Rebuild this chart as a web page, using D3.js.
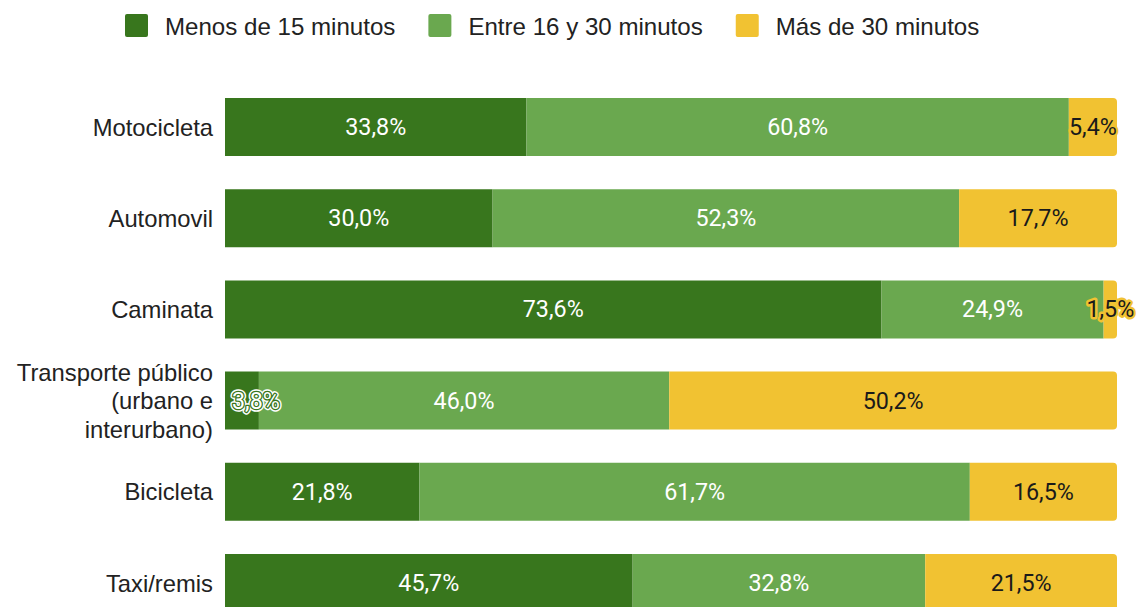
<!DOCTYPE html>
<html>
<head>
<meta charset="utf-8">
<script src="https://cdn.jsdelivr.net/npm/d3@7"></script>
<style>
  html, body { margin: 0; padding: 0; background: #fff; overflow: hidden; }
  svg { display: block; }
</style>
</head>
<body>
<div id="chart"></div>
<script>
// modes of transport, top to bottom (line breaks with \n)
const CATEGORIES = ["Motocicleta", "Automovil", "Caminata",
  "Transporte público\n(urbano e\ninterurbano)", "Bicicleta", "Taxi/remis"];
const SERIES = ["Menos de 15 minutos", "Entre 16 y 30 minutos", "Más de 30 minutos"];
const MENOS_15  = [33.8, 30.0, 73.6, 3.8, 21.8, 45.7];
const ENTRE_16_30 = [60.8, 52.3, 24.9, 46.0, 61.7, 32.8];
const MAS_30    = [5.4, 17.7, 1.5, 50.2, 16.5, 21.5];
const X_DOMAIN  = [0, 100];

(function () {
  const W = 1137, H = 607;
  const COLORS = ["#38761d", "#6aa84f", "#f1c232"];
  const TEXT_ON = ["#ffffff", "#ffffff", "#1a1a1a"];
  const LABEL_FONT = "'Liberation Sans', Arial, sans-serif";
  const VALUE_FONT = "Roboto, sans-serif";
  const VALUE_SIZE = "23.3px";

  const svg = d3.select("#chart").append("svg")
    .attr("width", W).attr("height", H).attr("viewBox", `0 0 ${W} ${H}`);

  const values = [MENOS_15, ENTRE_16_30, MAS_30];
  const rows = CATEGORIES.map((c, i) => {
    let acc = 0;
    const segs = values.map((arr, s) => {
      const seg = { s, v: arr[i], x0: acc, x1: acc + arr[i] };
      acc += arr[i];
      return seg;
    });
    return { cat: c, segs };
  });

  const x = d3.scaleLinear().domain(X_DOMAIN).range([225, 1117]);
  const step = 91.2;
  const y = d3.scaleBand().domain(CATEGORIES)
    .range([98 - step * 0.182, 98 - step * 0.182 + step * CATEGORIES.length])
    .paddingInner(0.364).paddingOuter(0.182);
  const bh = y.bandwidth();

  // Legend
  const legend = svg.append("g").attr("class", "legend");
  let lx = 125;
  SERIES.forEach((name, i) => {
    legend.append("rect").attr("x", lx).attr("y", 14).attr("width", 23).attr("height", 23)
      .attr("rx", 2).attr("fill", COLORS[i]);
    const t = legend.append("text").attr("x", lx + 40).attr("y", 26)
      .attr("dominant-baseline", "central")
      .attr("font-family", LABEL_FONT).attr("font-size", "24.1px").attr("fill", "#222")
      .text(name);
    lx += 40 + t.node().getComputedTextLength() + 33;
  });

  // Category labels
  const cats = svg.append("g").attr("class", "cats");
  CATEGORIES.forEach(c => {
    const lines = c.split("\n");
    const cy = y(c) + bh / 2;
    const lh = 28.5;
    lines.forEach((ln, k) => {
      cats.append("text").attr("x", 213)
        .attr("y", cy + (k - (lines.length - 1) / 2) * lh)
        .attr("dominant-baseline", "central").attr("text-anchor", "end")
        .attr("font-family", LABEL_FONT).attr("font-size", "23.8px").attr("fill", "#222")
        .text(ln);
    });
  });

  // Bars: last segment gets rounded right corners
  function segPath(x0, x1, y0, h, rounded) {
    const r = rounded ? Math.min(4, (x1 - x0)) : 0;
    const p = d3.path();
    p.moveTo(x0, y0);
    p.lineTo(x1 - r, y0);
    if (r) p.arcTo(x1, y0, x1, y0 + r, r);
    p.lineTo(x1, y0 + h - r);
    if (r) p.arcTo(x1, y0 + h, x1 - r, y0 + h, r);
    p.lineTo(x0, y0 + h);
    p.closePath();
    return p.toString();
  }

  const g = svg.append("g").attr("class", "bars");
  rows.forEach(row => {
    const y0 = y(row.cat);
    const rg = g.append("g");
    rg.selectAll("path").data(row.segs).join("path")
      .attr("d", d => segPath(x(d.x0), x(d.x1), y0, bh, d.s === SERIES.length - 1))
      .attr("fill", d => COLORS[d.s]);
  });

  // Value labels
  const fmt = v => v.toFixed(1).replace(".", ",") + "%";
  const label = (cx, cy, txt) => svg.append("text")
    .attr("x", cx).attr("y", cy).attr("dominant-baseline", "central").attr("text-anchor", "middle")
    .attr("font-family", VALUE_FONT).attr("font-size", VALUE_SIZE)
    .attr("stroke-linejoin", "round").text(txt);

  rows.forEach(row => {
    const cy = y(row.cat) + bh / 2;
    row.segs.forEach(d => {
      const a = x(d.x0), b = x(d.x1);
      const t = label(0, cy, fmt(d.v)).attr("fill", TEXT_ON[d.s]);
      const tw = t.node().getComputedTextLength();
      let cx = (a + b) / 2;
      if (cx - tw / 2 < x.range()[0] + 7) cx = x.range()[0] + 7 + tw / 2;
      t.attr("x", cx);
      if (tw + 6 > b - a) {
        // label doesn't fit: add a halo
        if (d.s === 0) {
          t.remove();
          label(cx, cy, fmt(d.v)).attr("fill", "#fff").attr("stroke", "#fff").attr("stroke-width", 5.5);
          label(cx, cy, fmt(d.v)).attr("fill", COLORS[0]).attr("stroke", COLORS[0]).attr("stroke-width", 2.6);
          label(cx, cy, fmt(d.v)).attr("fill", "#fff");
        } else {
          t.attr("stroke", COLORS[d.s]).attr("stroke-width", 5).attr("paint-order", "stroke");
        }
      }
    });
  });
})();
</script>
</body>
</html>
